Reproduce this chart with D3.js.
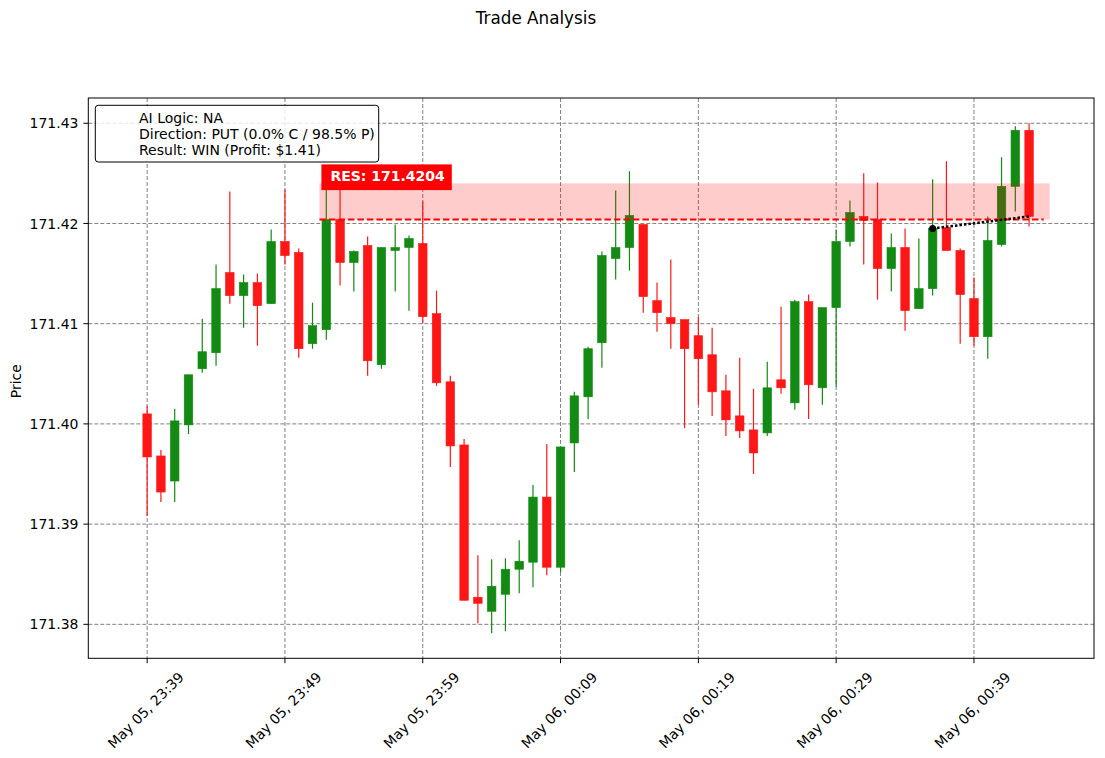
<!DOCTYPE html>
<html>
<head>
<meta charset="utf-8">
<script src="https://cdn.jsdelivr.net/npm/d3@7"></script>
<style>
  body { margin: 0; background: #fff; }
  svg { display: block; font-family: "DejaVu Sans", sans-serif; }
</style>
</head>
<body>
<svg id="chart" width="1105" height="758"></svg>
<script>
// ---- DATA ----
const startTime = Date.UTC(2025, 4, 5, 23, 39); // first candle, May 05 23:39
const minuteOffsets = d3.range(0, 65); // one candle per minute
const opens  = [171.4010,171.3968,171.3943,171.3999,171.4055,171.4071,171.4151,171.4128,171.4141,171.4120,
                171.4182,171.4171,171.4080,171.4094,171.4204,171.4161,171.4178,171.4059,171.4173,171.4176,
                171.4180,171.4110,171.4042,171.3979,171.3827,171.3813,171.3830,171.3855,171.3862,171.3927,
                171.3857,171.3981,171.4027,171.4081,171.4165,171.4176,171.4199,171.4123,171.4106,171.4104,
                171.4088,171.4069,171.4033,171.4008,171.3994,171.3991,171.4044,171.4021,171.4122,171.4036,
                171.4116,171.4182,171.4207,171.4204,171.4155,171.4176,171.4115,171.4135,171.4196,171.4173,
                171.4125,171.4087,171.4179,171.4237,171.4293];
const highs  = [171.4018,171.3974,171.4015,171.4049,171.4105,171.4159,171.4232,171.4149,171.4150,171.4194,
                171.4234,171.4175,171.4121,171.4238,171.4236,171.4173,171.4187,171.4176,171.4199,171.4188,
                171.4222,171.4133,171.4048,171.3985,171.3869,171.3865,171.3866,171.3884,171.3939,171.3980,
                171.3977,171.4032,171.4077,171.4172,171.4233,171.4252,171.4199,171.4141,171.4164,171.4104,
                171.4107,171.4096,171.4049,171.4066,171.4035,171.4062,171.4117,171.4124,171.4129,171.4116,
                171.4194,171.4223,171.4250,171.4241,171.4190,171.4195,171.4185,171.4244,171.4262,171.4175,
                171.4146,171.4207,171.4266,171.4297,171.4300];
const lows   = [171.3908,171.3922,171.3922,171.3990,171.4051,171.4058,171.4120,171.4096,171.4078,171.4120,
                171.4159,171.4066,171.4075,171.4084,171.4138,171.4132,171.4048,171.4055,171.4132,171.4113,
                171.4101,171.4038,171.3957,171.3824,171.3801,171.3791,171.3793,171.3831,171.3837,171.3849,
                171.3852,171.3952,171.4005,171.4056,171.4144,171.4153,171.4111,171.4092,171.4075,171.3996,
                171.4019,171.4008,171.3988,171.3986,171.3950,171.3988,171.4030,171.4014,171.4005,171.4019,
                171.4037,171.4177,171.4159,171.4124,171.4132,171.4093,171.4115,171.4128,171.4173,171.4080,
                171.4078,171.4065,171.4177,171.4212,171.4197];
const closes = [171.3967,171.3932,171.4003,171.4049,171.4072,171.4135,171.4128,171.4141,171.4118,171.4182,
                171.4168,171.4075,171.4098,171.4204,171.4161,171.4172,171.4063,171.4176,171.4176,171.4185,
                171.4107,171.4041,171.3978,171.3824,171.3821,171.3838,171.3855,171.3863,171.3927,171.3857,
                171.3977,171.4028,171.4075,171.4168,171.4176,171.4208,171.4127,171.4111,171.4100,171.4075,
                171.4065,171.4032,171.4004,171.3993,171.3971,171.4036,171.4036,171.4122,171.4039,171.4116,
                171.4182,171.4211,171.4203,171.4155,171.4176,171.4113,171.4135,171.4195,171.4173,171.4129,
                171.4087,171.4183,171.4237,171.4293,171.4207];

const yTicks = [171.38, 171.39, 171.40, 171.41, 171.42, 171.43];
const xTickOffsets = [0, 10, 20, 30, 40, 50, 60]; // minutes after start

const resistance = 171.4204;
const zoneTop = 171.4240;
const zoneStartOffset = 12.5, zoneEndOffset = 65.5;
const entryOffset = 57, exitOffset = 64;
const entryPrice = 171.4195, exitPrice = 171.4207;

const legendLines = ["AI Logic: NA", "Direction: PUT (0.0% C / 98.5% P)", "Result: WIN (Profit: $1.41)"];
const titleText = "Trade Analysis";

// ---- LAYOUT ----
const FS = 14;
const MIN = 60000;
const t = m => new Date(startTime + m * MIN);
const plot = {left: 88.3, right: 1094, top: 98, bottom: 658.3};

const svg = d3.select("#chart");
const x = d3.scaleTime()
  .domain([t(-4.27), t(68.71)])
  .range([plot.left, plot.right]);
const y = d3.scaleLinear()
  .domain([171.37661, 171.43252])
  .range([plot.bottom, plot.top]);

const GREEN = "#138a13", RED = "#ff1717";
const candles = minuteOffsets.map((m, i) => ({
  t: t(m), o: opens[i], h: highs[i], l: lows[i], c: closes[i]
}));

// clip
svg.append("defs").append("clipPath").attr("id", "clip")
  .append("rect").attr("x", plot.left).attr("y", plot.top)
  .attr("width", plot.right - plot.left).attr("height", plot.bottom - plot.top);

// grid
const grid = svg.append("g").attr("stroke", "#808080").attr("stroke-width", 1)
  .attr("stroke-dasharray", "4,2");
grid.selectAll("line.gx").data(xTickOffsets).join("line")
  .attr("x1", d => x(t(d))).attr("x2", d => x(t(d)))
  .attr("y1", plot.top).attr("y2", plot.bottom);
grid.selectAll("line.gy").data(yTicks).join("line")
  .attr("x1", plot.left).attr("x2", plot.right)
  .attr("y1", d => y(d)).attr("y2", d => y(d));

// candles
const cg = svg.append("g").attr("clip-path", "url(#clip)");
const bw = x(t(0.62)) - x(t(0));
cg.selectAll("line.wick").data(candles).join("line")
  .attr("x1", d => x(d.t)).attr("x2", d => x(d.t))
  .attr("y1", d => y(d.h)).attr("y2", d => y(d.l))
  .attr("stroke", d => d.c >= d.o ? GREEN : RED).attr("stroke-width", 1.2);
cg.selectAll("rect.body").data(candles).join("rect")
  .attr("x", d => x(d.t) - bw / 2)
  .attr("width", bw)
  .attr("y", d => y(Math.max(d.o, d.c)))
  .attr("height", d => Math.max(1, Math.abs(y(d.o) - y(d.c))))
  .attr("fill", d => d.c >= d.o ? GREEN : RED)
  .attr("stroke", d => d.c >= d.o ? GREEN : RED).attr("stroke-width", 0.6);

// resistance zone
svg.append("rect")
  .attr("x", x(t(zoneStartOffset))).attr("width", x(t(zoneEndOffset)) - x(t(zoneStartOffset)))
  .attr("y", y(zoneTop)).attr("height", y(resistance) - y(zoneTop))
  .attr("fill", "red").attr("fill-opacity", 0.2);
svg.append("line")
  .attr("x1", x(t(zoneStartOffset))).attr("x2", x(t(zoneEndOffset)) - 6)
  .attr("y1", y(resistance)).attr("y2", y(resistance))
  .attr("stroke", "red").attr("stroke-width", 2).attr("stroke-dasharray", "6.5,3");

// entry -> exit dotted line
svg.append("line")
  .attr("x1", x(t(entryOffset))).attr("y1", y(entryPrice))
  .attr("x2", x(t(exitOffset))).attr("y2", y(exitPrice))
  .attr("stroke", "black").attr("stroke-width", 2.5).attr("stroke-dasharray", "2.5,2");
svg.append("circle")
  .attr("cx", x(t(entryOffset))).attr("cy", y(entryPrice)).attr("r", 3.5).attr("fill", "black");

// RES label
const lblX = x(t(zoneStartOffset)) + 2, lblY = y(zoneTop) - 19;
const lbl = svg.append("g");
const lblText = lbl.append("text")
  .attr("x", lblX + 9).attr("y", lblY + 17)
  .attr("font-size", FS).attr("font-weight", "bold").attr("fill", "white")
  .text("RES: " + resistance.toFixed(4));
const lw = lblText.node().getComputedTextLength();
lbl.insert("rect", "text")
  .attr("x", lblX).attr("y", lblY).attr("width", lw + 16).attr("height", 25.7)
  .attr("fill", "red");

// axes frame
svg.append("rect")
  .attr("x", plot.left).attr("y", plot.top)
  .attr("width", plot.right - plot.left).attr("height", plot.bottom - plot.top)
  .attr("fill", "none").attr("stroke", "black").attr("stroke-width", 1);

// y axis ticks
const yAxis = svg.append("g");
yAxis.selectAll("line").data(yTicks).join("line")
  .attr("x1", plot.left - 4.9).attr("x2", plot.left)
  .attr("y1", d => y(d)).attr("y2", d => y(d)).attr("stroke", "black");
yAxis.selectAll("text").data(yTicks).join("text")
  .attr("x", plot.left - 9.8).attr("y", d => y(d)).attr("dy", "0.36em")
  .attr("text-anchor", "end").attr("font-size", FS).text(d => d.toFixed(2));

// x axis ticks
const fmt = d3.utcFormat("%b %d, %H:%M");
const xAxis = svg.append("g");
xAxis.selectAll("line").data(xTickOffsets).join("line")
  .attr("x1", d => x(t(d))).attr("x2", d => x(t(d)))
  .attr("y1", plot.bottom).attr("y2", plot.bottom + 4.9).attr("stroke", "black");
xAxis.selectAll("text").data(xTickOffsets).join("text")
  .attr("font-size", FS).attr("text-anchor", "middle").attr("dy", "0.32em")
  .text(d => fmt(t(d)))
  .each(function (d) {
    const w = this.getComputedTextLength();
    const h = 16;
    const ext = (w + h) * Math.SQRT1_2;
    d3.select(this).attr("transform",
      `translate(${x(t(d)) - 1},${plot.bottom + 11 + ext / 2}) rotate(-45)`);
  });

// y label
svg.append("text")
  .attr("transform", `translate(21,${(plot.top + plot.bottom) / 2 + 3}) rotate(-90)`)
  .attr("text-anchor", "middle").attr("font-size", FS).text("Price");

// title
svg.append("text").attr("x", 536).attr("y", 24)
  .attr("text-anchor", "middle").attr("font-size", 16.8).text(titleText);

// legend
const lg = svg.append("g");
lg.append("rect").attr("x", 95.3).attr("y", 105.3).attr("width", 283.4).attr("height", 56.7)
  .attr("rx", 3).attr("fill", "white").attr("fill-opacity", 0.8)
  .attr("stroke", "black").attr("stroke-width", 1);
lg.selectAll("text").data(legendLines).join("text")
  .attr("x", 139).attr("y", (d, i) => 123 + i * 16)
  .attr("font-size", FS).text(d => d);
</script>
</body>
</html>
